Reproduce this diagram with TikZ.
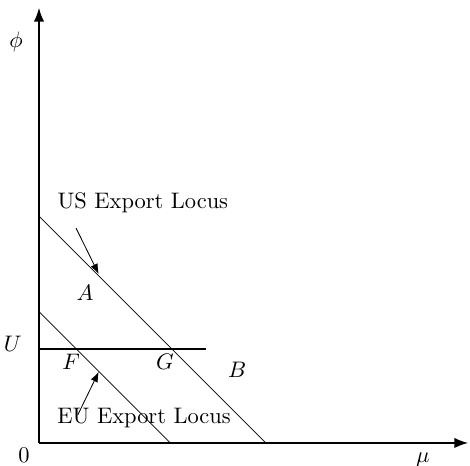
\documentclass[tikz,border=0pt]{standalone}
\usepackage{amsfonts,amssymb,amsmath}
\usepackage{tikz}
\usetikzlibrary{arrows.meta}

\begin{document}
\begin{tikzpicture}[>=Stealth,every node/.style={scale=1.07}]
\useasboundingbox(-0.653,-0.385)rectangle(7.22,7.42);
\coordinate(O)at(0,0);
\coordinate(ytop)at(0,7.29);
\coordinate(xend)at(7.19,0);
\draw[-Latex,thick](O)--(ytop);
\draw[-Latex,thick](O)--(xend);
% export loci
\coordinate(us1)at(0,3.8);
\coordinate(us2)at(3.8,0);
\coordinate(eu1)at(0,2.2);
\coordinate(eu2)at(2.2,0);
\draw(us1)--(us2);
\draw(eu1)--(eu2);
\coordinate(u1)at(0,1.575);
\coordinate(u2)at(2.8,1.575);
\draw[line width=1pt](u1)--(u2);
\draw(-0.44,1.66)node(U){$U$}
(-0.25,-0.2)node(zero){$0$}
(6.43,-0.28)node(mu){$\mu$}
(-0.385,6.72)node(phi){$\phi$}
(0.77,2.51)node(A){$A$}
(0.54,1.36)node(F){$F$}
(2.11,1.36)node(G){$G$}
(3.32,1.22)node(B){$B$};
\node(uslab)at(1.74,4.02){US Export Locus};
\node(eulab)at(1.76,0.42){EU Export Locus};
\coordinate(usfrom)at(0.62,3.6);
\coordinate(usto)at(1.0,2.83);
\coordinate(eufrom)at(0.65,0.47);
\coordinate(euto)at(1.0,1.19);
\draw[-Latex](usfrom)--(usto);
\draw[-Latex](eufrom)--(euto);
\end{tikzpicture}
\end{document}
